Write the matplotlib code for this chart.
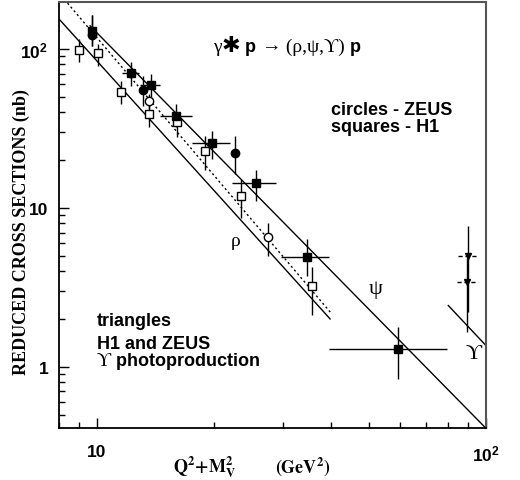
import numpy as np
import matplotlib
matplotlib.use("Agg")
import matplotlib.pyplot as plt
from matplotlib.ticker import FixedLocator, LogLocator, NullFormatter

plt.rcParams['mathtext.fontset'] = 'custom'
plt.rcParams['mathtext.bf'] = 'Liberation Sans:bold'
plt.rcParams['mathtext.rm'] = 'Liberation Sans:bold'

# --- datos ---
# rho, H1 (cuadrados abiertos)
rho_h1_x = [9.01, 10.04, 11.50, 13.60, 16.08, 18.90, 23.41, 35.67]
rho_h1_y = [99.0, 94.0, 53.9, 39.0, 34.9, 22.9, 11.90, 3.22]
rho_h1_lo = [83.2, 78.5, 45.1, 32.5, 27.9, 17.2, 8.65, 2.13]
rho_h1_hi = [115.6, 107.5, 63.2, 45.1, 40.0, 28.5, 15.1, 4.24]

# rho, ZEUS (circulos abiertos)
rho_zeus_x = [13.60, 27.6]
rho_zeus_y = [47.3, 6.54]
rho_zeus_lo = [41.9, 5.01]
rho_zeus_hi = [52.1, 8.05]

# J/psi, H1 (cuadrados llenos)
psi_h1_x = [9.69, 12.20, 13.73, 15.99, 19.74, 25.6, 34.6, 59.5]
psi_h1_y = [130.3, 70.6, 59.4, 38.1, 25.6, 14.3, 4.94, 1.285]
psi_h1_lo = [104.9, 58.3, 49.7, 32.2, 20.3, 11.0, 3.75, 0.84]
psi_h1_hi = [163.6, 82.5, 69.6, 45.1, 30.6, 17.4, 6.38, 1.78]
psi_h1_xlo = [9.69, 11.6, 12.9, 14.5, 17.5, 22.3, 29.7, 39.6]
psi_h1_xhi = [9.69, 12.8, 14.5, 17.5, 21.96, 28.9, 39.5, 79.5]

# J/psi, ZEUS (circulos llenos)
psi_zeus_x = [9.69, 13.10, 22.6]
psi_zeus_y = [123.0, 55.5, 22.3]
psi_zeus_lo = [104.9, 44.0, 16.4]
psi_zeus_hi = [163.6, 67.9, 28.5]

# Upsilon fotoproduccion (triangulos)
ups_x = [90.1, 89.2]
ups_y = [5.01, 3.44]
ups_lo = [2.22, 1.66]
ups_hi = [7.67, 4.85]
ups_xlo = [84.9, 84.1]
ups_xhi = [95.0, 94.7]

# rectas (extremos)
rho_line_x = [8.02, 39.75]
rho_line_y = [152.9, 2.00]
dot_line_x = [8.40, 39.9]
dot_line_y = [194.6, 2.19]
psi_line_x = [9.6, 100.0]
psi_line_y = [140.0, 0.41]
ups_line_x = [80.0, 100.0]
ups_line_y = [2.43, 1.36]

fig = plt.figure(figsize=(5.2, 4.81), dpi=100)
ax = fig.add_axes([0.114, 0.1075, 0.8206, 0.8857])
ax.set_xscale('log')
ax.set_yscale('log')
ax.set_xlim(8, 100)
ax.set_ylim(0.41, 197)

lw = 1.0
ax.plot(rho_line_x, rho_line_y, color='k', lw=lw)
ax.plot(dot_line_x, dot_line_y, color='k', lw=lw, ls=(0, (1.5, 2)))
ax.plot(psi_line_x, psi_line_y, color='k', lw=lw, clip_on=False)
ax.plot(ups_line_x, ups_line_y, color='k', lw=lw)


def err(y, lo, hi):
    y = np.array(y)
    return [y - np.array(lo), np.array(hi) - y]


ax.errorbar(rho_h1_x, rho_h1_y, yerr=err(rho_h1_y, rho_h1_lo, rho_h1_hi),
            fmt='s', ms=6, mfc='white', mec='k', mew=1, ecolor='k', elinewidth=1, capsize=0)
ax.errorbar(rho_zeus_x, rho_zeus_y, yerr=err(rho_zeus_y, rho_zeus_lo, rho_zeus_hi),
            fmt='o', ms=6, mfc='white', mec='k', mew=1, ecolor='k', elinewidth=1, capsize=0)
ax.errorbar(psi_zeus_x, psi_zeus_y, yerr=err(psi_zeus_y, psi_zeus_lo, psi_zeus_hi),
            fmt='o', ms=6, mfc='k', mec='k', ecolor='k', elinewidth=1, capsize=0)
ax.errorbar(psi_h1_x, psi_h1_y, yerr=err(psi_h1_y, psi_h1_lo, psi_h1_hi),
            xerr=err(psi_h1_x, psi_h1_xlo, psi_h1_xhi),
            fmt='s', ms=6, mfc='k', mec='k', ecolor='k', elinewidth=1, capsize=0)
ax.errorbar(ups_x, ups_y, yerr=err(ups_y, ups_lo, ups_hi),
            fmt='v', ms=5, mfc='k', mec='k', ecolor='k', elinewidth=1, capsize=0)
ax.hlines(ups_y, ups_xlo, ups_xhi, color='k', lw=1, ls=(0, (3, 2)))

# ejes y marcas
ax.xaxis.set_major_locator(FixedLocator([10, 100]))
ax.xaxis.set_minor_locator(LogLocator(base=10, subs=np.arange(2, 10)))
ax.xaxis.set_minor_formatter(NullFormatter())
ax.set_xticklabels(['10', r'$\mathbf{10^2}$'])
ax.yaxis.set_major_locator(FixedLocator([1, 10, 100]))
ax.yaxis.set_minor_locator(LogLocator(base=10, subs=np.arange(2, 10)))
ax.yaxis.set_minor_formatter(NullFormatter())
ax.set_yticklabels(['1', '10', r'$\mathbf{10^2}$'])
ax.tick_params(which='both', direction='in', top=False, right=False, width=1)
ax.tick_params(which='major', length=7, labelsize=12.5)
ax.tick_params(which='minor', length=4)
ax.tick_params(axis='x', which='major', pad=11)
ax.tick_params(axis='y', which='major', pad=8)
for lab in ax.get_xticklabels() + ax.get_yticklabels():
    lab.set_fontfamily('Liberation Sans')
    lab.set_fontweight('bold')

for s in ['left', 'bottom']:
    ax.spines[s].set_linewidth(1.3)
for s in ['top', 'right']:
    ax.spines[s].set_linewidth(1.5)
    ax.spines[s].set_color('#555555')

# textos
sans = dict(family='Liberation Sans', weight='bold', fontsize=13)
serif = dict(family=['Liberation Serif', 'DejaVu Serif'], fontsize=14)

t = ax.text(19.9, 104.4, 'γ', va='center', ha='left', **serif)
t = ax.annotate('✱', xycoords=t, xy=(1, 0), va='bottom',
                family='DejaVu Sans', fontsize=16)
t = ax.annotate(' p ', xycoords=t, xy=(1, 0), va='bottom', **sans)
t = ax.annotate('→', xycoords=t, xy=(1, 0), va='bottom', **serif)
t = ax.annotate(' (ρ,ψ,ϒ) ', xycoords=t, xy=(1, 0), va='bottom', **serif)
t = ax.annotate('p', xycoords=t, xy=(1, 0), va='bottom', **sans)

ax.text(40.0, 41.9, 'circles - ZEUS', va='center', ha='left', **sans)
ax.text(40.0, 32.4, 'squares - H1', va='center', ha='left', **sans)
ax.text(10.0, 1.955, 'triangles', va='center', ha='left', **sans)
ax.text(10.0, 1.41, 'H1 and ZEUS', va='center', ha='left', **sans)
t = ax.text(10.0, 1.096, 'ϒ', va='center', ha='left', **serif)
ax.annotate(' photoproduction', xycoords=t, xy=(1, 0), va='bottom', **sans)

ax.text(22.66, 6.23, 'ρ', va='center', ha='center', **serif)
ax.text(51.9, 3.09, 'ψ', va='center', ha='center', family=['Liberation Serif', 'DejaVu Serif'], fontsize=16)
ax.text(93.2, 1.207, 'ϒ', va='center', ha='center', family=['Liberation Serif', 'DejaVu Serif'], fontsize=16)

fig.text(21 / 520, 1 - 232 / 481, 'REDUCED CROSS SECTIONS (nb)', rotation=90,
         va='center', ha='center', family='Liberation Serif', weight='bold', fontsize=13)
fig.text(205 / 520, 1 - 467 / 481, r'$\mathbf{Q^2{+}M_V^2}$', va='center', ha='center',
         fontsize=13, math_fontfamily='stix')
fig.text(303 / 520, 1 - 467 / 481, r'$\mathbf{(GeV^2)}$', va='center', ha='center',
         fontsize=13, math_fontfamily='stix')

fig.savefig('out.png', dpi=100)
